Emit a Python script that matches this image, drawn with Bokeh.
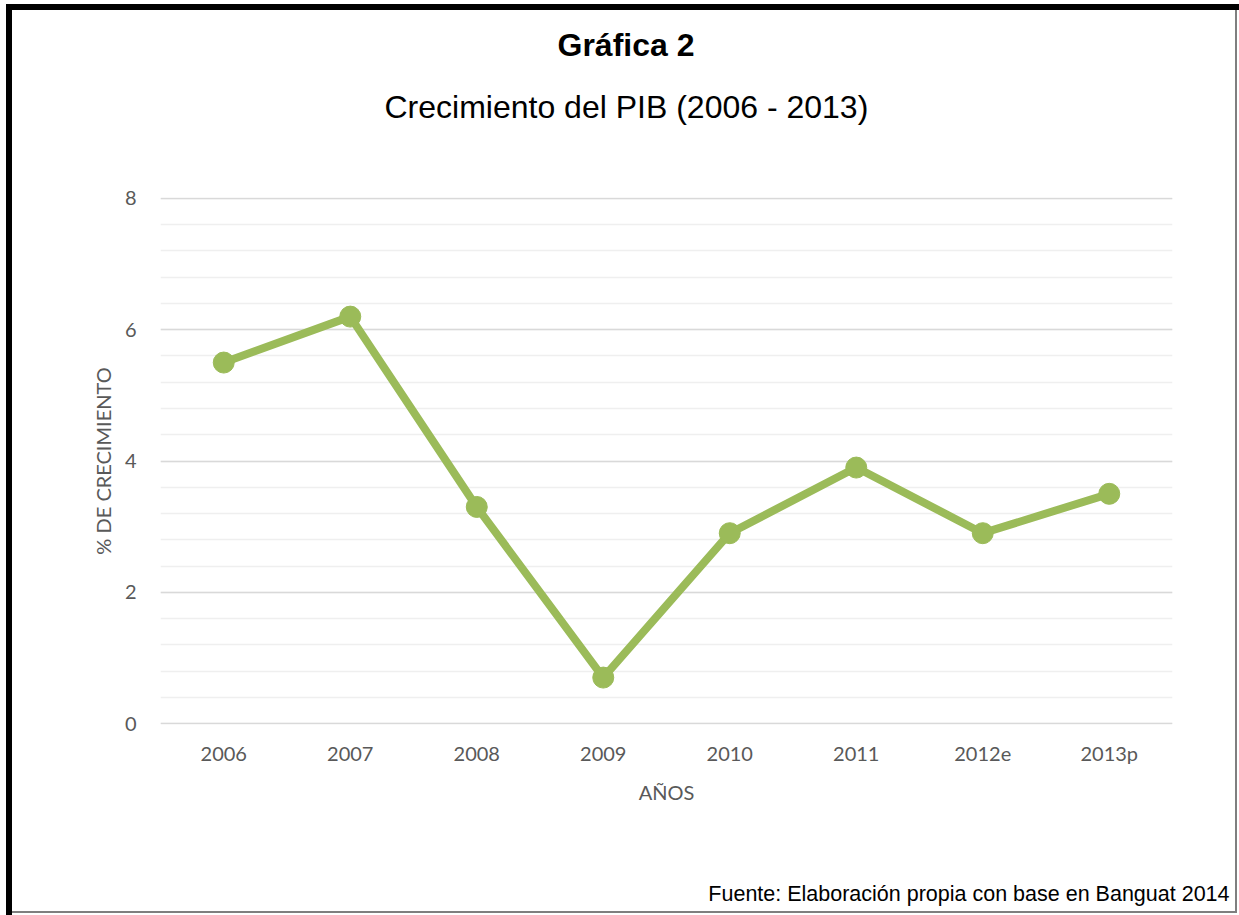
from bokeh.plotting import figure
from bokeh.models import FactorRange, Range1d, SingleIntervalTicker, Title
from bokeh.embed import file_html
from bokeh.resources import INLINE

years = ["2006", "2007", "2008", "2009", "2010", "2011", "2012e", "2013p"]
growth = [5.5, 6.2, 3.3, 0.7, 2.9, 3.9, 2.9, 3.5]

title_text = "Gráfica 2"
subtitle_text = "Crecimiento del PIB (2006 - 2013)"
source_text = "Fuente: Elaboración propia con base en Banguat 2014"
y_title = "% DE CRECIMIENTO"
x_title = "AÑOS"

W, H = 1239, 915
FL, FR, FT, FB = 160, 1172, 197, 724

p = figure(width=W, height=H, x_range=FactorRange(*years), y_range=Range1d(-0.015, 8.015),
           output_backend="svg", toolbar_location=None,
           min_border_left=FL, min_border_right=W - FR,
           min_border_top=FT, min_border_bottom=H - FB)
p.title = None
p.outline_line_color = None
p.background_fill_color = "white"
p.border_fill_alpha = 0

# page frame drawn as background of the plot element
p.styles = {
    "background": ("linear-gradient(#000,#000) 6px 4px / 1233px 6px no-repeat, "
                   "linear-gradient(#000,#000) 6px 4px / 6px 911px no-repeat, "
                   "linear-gradient(#7f7f7f,#7f7f7f) 1235px 4px / 2px 909px no-repeat, "
                   "linear-gradient(#7f7f7f,#7f7f7f) 6px 911px / 1231px 2px no-repeat, #ffffff"),
}

green = "#9BBB59"
p.line(years, growth, line_color=green, line_width=8)
p.scatter(years, growth, size=21, fill_color=green, line_color=green)

# axes
p.yaxis.ticker = SingleIntervalTicker(interval=2, num_minor_ticks=5)
for ax in (p.xaxis[0], p.yaxis[0]):
    ax.axis_line_color = None
    ax.major_tick_line_color = None
    ax.minor_tick_line_color = None
    ax.major_label_text_color = "#595959"
    ax.major_label_text_font = "Lato"
    ax.major_label_text_font_size = "20px"
    ax.axis_label_text_color = "#595959"
    ax.axis_label_text_font = "Lato"
    ax.axis_label_text_font_size = "20px"
    ax.axis_label_text_font_style = "normal"

p.yaxis.major_label_standoff = 18
p.xaxis.major_label_standoff = 10
p.yaxis.axis_label = y_title
p.xaxis.axis_label = x_title
p.yaxis.axis_label_standoff = 7
p.xaxis.axis_label_standoff = 12

p.xgrid.grid_line_color = None
p.ygrid.grid_line_color = "#d9d9d9"
p.ygrid.grid_line_width = 1.3
p.ygrid.minor_grid_line_color = "#efefef"
p.ygrid.minor_grid_line_width = 1.3

# spacing titles (blank) to position the real titles
spacer_top = Title(text=" ", standoff=60, text_font_size="10px", text_color="white")
sub = Title(text=subtitle_text, align="left", offset=224, standoff=0,
            text_font="Liberation Sans", text_font_size="32px",
            text_font_style="normal", text_color="black")
main = Title(text=title_text, align="left", offset=397, standoff=48,
             text_font="Liberation Sans", text_font_size="32px",
             text_font_style="bold", text_color="black")
p.add_layout(spacer_top, "above")
p.add_layout(sub, "above")
p.add_layout(main, "above")

spacer_bottom = Title(text=" ", standoff=60, text_font_size="10px", text_color="white")
src = Title(text=source_text, align="right", offset=-57, standoff=0,
            text_font="Liberation Sans", text_font_size="21.5px",
            text_font_style="normal", text_color="black")
p.add_layout(spacer_bottom, "below")
p.add_layout(src, "below")

open("out.html", "w").write(file_html(p, INLINE))
